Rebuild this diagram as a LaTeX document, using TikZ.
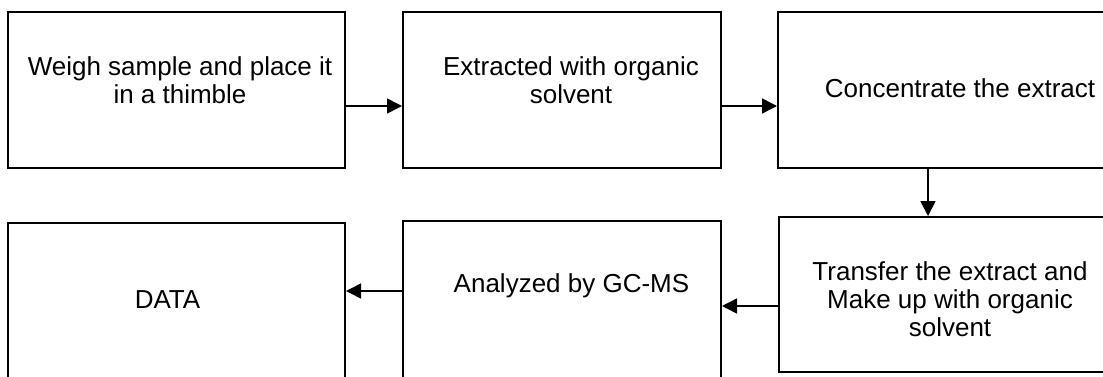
\documentclass[tikz,border=0pt]{standalone}
\usepackage{fontspec}
\setmainfont{Liberation Sans}
\usetikzlibrary{arrows.meta}
\begin{document}
\begin{tikzpicture}[x=0.5pt,y=-0.5pt,
  stepbox/.style={draw=black,line width=1pt,rectangle,inner sep=0pt},
  lbl/.style={inner sep=0pt,align=center,anchor=base,font=\fontsize{13pt}{14pt}\selectfont},
  arr/.style={line width=0.75pt,-{Triangle[length=7.5pt,width=7.5pt]}}]
\clip (0,0) rectangle (1103,376);
\useasboundingbox (0,0) rectangle (1103,376);
% boxes
\node[stepbox,minimum width=168.5pt,minimum height=78pt] (b1) at (176.5,90) {};
\node[stepbox,minimum width=159pt,minimum height=78pt] (b2) at (562,90) {};
\node[stepbox,minimum width=166pt,minimum height=78pt] (b3) at (944,90) {};
\node[stepbox,minimum width=165.5pt,minimum height=77.5pt] (b4) at (944.5,294.5) {};
\node[stepbox,minimum width=159pt,minimum height=79.5pt] (b5) at (562,300.5) {};
\node[stepbox,minimum width=168.5pt,minimum height=78.5pt] (b6) at (176.5,301.5) {};
% texts (anchor=base is the baseline of the last line)
\node[lbl] (t1) at (180,103) {Weigh sample and place it\\in a thimble};
\node[lbl] (t2) at (571,103) {Extracted with organic\\solvent};
\node[lbl] (t3) at (960,97) {Concentrate the extract};
\node[lbl] (t4) at (950,336) {Transfer the extract and\\Make up with organic\\solvent};
\node[lbl] (t5) at (571.5,292) {Analyzed by GC-MS};
\node[lbl] (t6) at (167.5,308) {DATA};
% connectors
\draw[arr] (b1.east |- 0,106) -- (b2.west |- 0,106);
\draw[arr] (b2.east |- 0,106) -- (b3.west |- 0,106);
\draw[arr] (b3.south -| 928,0) -- (b4.north -| 928,0);
\draw[arr] (b4.west |- 0,306) -- (b5.east |- 0,306);
\draw[arr] (b5.west |- 0,291) -- (b6.east |- 0,291);
\end{tikzpicture}
\end{document}
